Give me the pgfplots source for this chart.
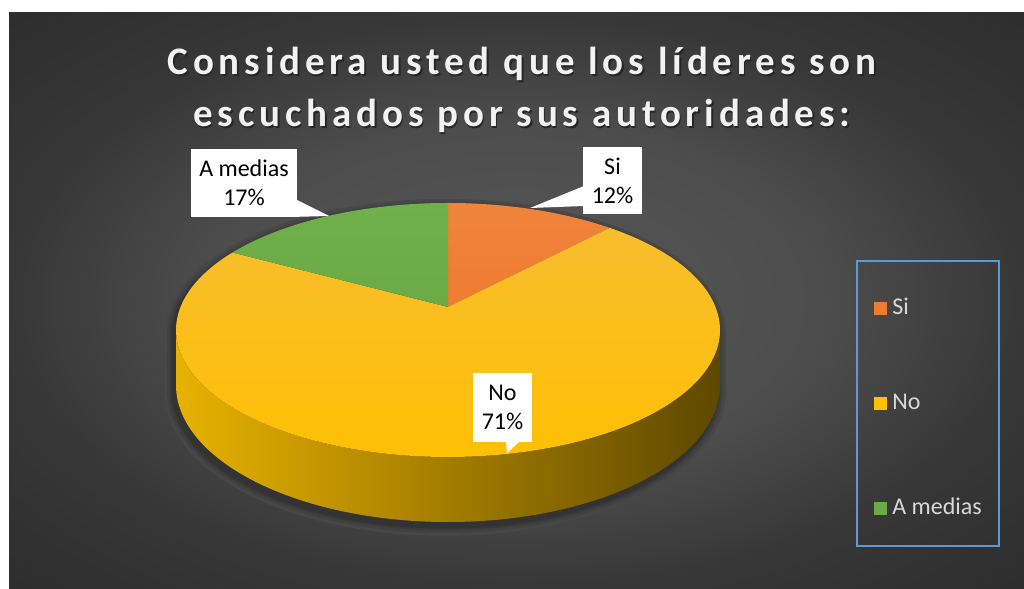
\documentclass[border=0pt]{standalone}
\usepackage{fontspec}
\setmainfont{Carlito}
\newfontfamily\titlefont[LetterSpace=12.5]{Carlito}
\usepackage{pgfplots}
\pgfplotsset{compat=1.18}
\usepackage{pgfplotstable}

\definecolor{cSi}{HTML}{EE7B30}
\definecolor{cSiT}{HTML}{F0843C}
\definecolor{cNo}{HTML}{FFC000}
\definecolor{cNoT}{HTML}{F8BD2E}
\definecolor{cAm}{HTML}{6BAA45}
\definecolor{cAmT}{HTML}{70B04C}
\definecolor{legblue}{HTML}{5B9BD5}
\definecolor{legtext}{HTML}{D9D9D9}
\definecolor{bgA}{HTML}{575757}
\definecolor{bgB}{HTML}{4D4D4D}
\definecolor{bgC}{HTML}{373737}
\definecolor{bgD}{HTML}{2D2D2D}
\definecolor{sdL}{HTML}{E8B200}
\definecolor{sdM}{HTML}{8C6C00}
\definecolor{sdR}{HTML}{5E4800}
\definecolor{sh1}{HTML}{474747}
\definecolor{sh2}{HTML}{414141}
\definecolor{sh3}{HTML}{3A3A3A}
\definecolor{sh4}{HTML}{333333}
\definecolor{tshadow}{HTML}{262626}

\pgfdeclareradialshading{bgshade}{\pgfpoint{0bp}{0bp}}{color(0bp)=(bgA); color(15bp)=(bgB); color(25bp)=(bgC); color(36bp)=(bgD); color(50bp)=(bgD)}

% data (percentages)
\pgfplotstableread{
label value
Si 12
No 71
Amedias 17
}\piedata
\pgfplotstablegetelem{0}{value}\of\piedata\edef\vA{\pgfplotsretval}
\pgfplotstablegetelem{1}{value}\of\piedata\edef\vB{\pgfplotsretval}
\pgfplotstablegetelem{2}{value}\of\piedata\edef\vC{\pgfplotsretval}

% perspective projection of a pie angle (clockwise from 12 o'clock) onto the ellipse parameter
\newcommand\projT[2]{%
  \pgfmathsetmacro\myux{sin(#1)}%
  \pgfmathsetmacro\myu{cos(#1)}%
  \pgfmathsetmacro\myw{1+0.181*\myu}%
  \pgfmathsetmacro\myX{267.4*\myux/\myw/272}%
  \pgfmathsetmacro\myY{(282+122.8*\myu/\myw-259)/127}%
  \pgfmathsetmacro#2{atan2(\myY,\myX)}%
}
\pgfmathsetmacro\myThA{0}
\pgfmathsetmacro\myThB{3.6*\vA}
\pgfmathsetmacro\myThC{3.6*(\vA+\vB)}
\pgfmathsetmacro\myThD{3.6*(\vA+\vB+\vC)}
\projT{\myThA}{\myTa}
\projT{\myThB}{\myTb}
\projT{\myThC}{\myTc}
\projT{\myThD}{\myTd}
% slice start / end parameters (clockwise)
\pgfmathsetmacro\sOneS{\myTa}
\pgfmathsetmacro\sOneE{(\myTb>\myTa)?(\myTb-360):\myTb}
\pgfmathsetmacro\sTwoS{\myTb}
\pgfmathsetmacro\sTwoE{(\myTc>\myTb)?(\myTc-360):\myTc}
\pgfmathsetmacro\sThrS{\myTc}
\pgfmathsetmacro\sThrE{(\myTd>\myTc)?(\myTd-360):\myTd}
\pgfmathsetmacro\pOneX{448+272*cos(\sOneS)}\pgfmathsetmacro\pOneY{259+127*sin(\sOneS)}
\pgfmathsetmacro\pTwoX{448+272*cos(\sTwoS)}\pgfmathsetmacro\pTwoY{259+127*sin(\sTwoS)}
\pgfmathsetmacro\pThrX{448+272*cos(\sThrS)}\pgfmathsetmacro\pThrY{259+127*sin(\sThrS)}

\newcommand\pieoutline{(axis cs:720,259) arc[start angle=0,end angle=180,x radius=136pt,y radius=63.5pt] -- (axis cs:176,204) arc[start angle=180,end angle=360,x radius=136pt,y radius=68.5pt] -- cycle}

\begin{document}
\begin{tikzpicture}
% background in canvas coordinates (1 px = 0.5pt), drawn generously past the edges
\fill[white] (-10pt,-10pt) rectangle (530pt,310pt);
\fill[bgD] (4.5pt,-20pt) rectangle (540pt,288pt);
\shade[shading=bgshade] (4.5pt,0pt) rectangle (512pt,288pt);
\begin{axis}[hide axis, scale only axis, width=512pt, height=294.5pt,
  xmin=0, xmax=1024, ymin=0, ymax=589, clip=false, at={(0pt,0pt)}, anchor=south west]
% soft shadow (solid layers)
\begin{scope}[xshift=-1.5pt, yshift=-2.5pt]
\filldraw[sh1, line width=9pt, line join=round] \pieoutline;
\filldraw[sh2, line width=6pt, line join=round] \pieoutline;
\filldraw[sh3, line width=3.5pt, line join=round] \pieoutline;
\filldraw[sh4, line width=1.5pt, line join=round] \pieoutline;
\end{scope}
% side (front) of the pie
\shade[left color=sdL, middle color=sdM, right color=sdR] (axis cs:176,259) arc[start angle=180,end angle=360,x radius=136pt,y radius=63.5pt] -- (axis cs:720,204) arc[start angle=360,end angle=180,x radius=136pt,y radius=68.5pt] -- cycle;
% top face slices
\shade[top color=cSiT, bottom color=cSi] (axis cs:448,282) -- (axis cs:\pOneX,\pOneY) arc[start angle=\sOneS, end angle=\sOneE, x radius=136pt, y radius=63.5pt] -- cycle;
\shade[top color=cNoT, bottom color=cNo] (axis cs:448,282) -- (axis cs:\pTwoX,\pTwoY) arc[start angle=\sTwoS, end angle=\sTwoE, x radius=136pt, y radius=63.5pt] -- cycle;
\shade[top color=cAmT, bottom color=cAm] (axis cs:448,282) -- (axis cs:\pThrX,\pThrY) arc[start angle=\sThrS, end angle=\sThrE, x radius=136pt, y radius=63.5pt] -- cycle;
% title
\node[anchor=base, text=tshadow, font=\titlefont\bfseries\fontsize{19.5}{23}\selectfont] at (axis cs:523.5,512) {Considera usted que los líderes son};
\node[anchor=base, text=tshadow, font=\titlefont\bfseries\fontsize{19.5}{23}\selectfont] at (axis cs:523.5,460) {escuchados por sus autoridades:};
\node[anchor=base, text=white!95!black, font=\titlefont\bfseries\fontsize{19.5}{23}\selectfont] at (axis cs:522,514) {Considera usted que los líderes son};
\node[anchor=base, text=white!95!black, font=\titlefont\bfseries\fontsize{19.5}{23}\selectfont] at (axis cs:522,462) {escuchados por sus autoridades:};
% data labels (callouts)
\fill[white] (axis cs:297,389) -- (axis cs:290,372) -- (axis cs:329,373) -- cycle;
\node[fill=white, inner sep=0pt, minimum width=53pt, minimum height=34pt, align=center, font=\fontsize{12}{14.5}\selectfont] at (axis cs:244,406) {A medias\\17\%};
\fill[white] (axis cs:584,403) -- (axis cs:584,383) -- (axis cs:530,381) -- cycle;
\node[fill=white, inner sep=0pt, minimum width=29.5pt, minimum height=33.5pt, align=center, font=\fontsize{12}{14.5}\selectfont] at (axis cs:612.5,408.5) {Si\\12\%};
\fill[white] (axis cs:506,148) -- (axis cs:520,148) -- (axis cs:507,136) -- cycle;
\node[fill=white, inner sep=0pt, minimum width=29.5pt, minimum height=34.5pt, align=center, font=\fontsize{12}{14.5}\selectfont] at (axis cs:502.5,181.5) {No\\71\%};
% legend
\draw[legblue, line width=1pt] (axis cs:857,43) rectangle (axis cs:999,328);
\fill[cSi] (axis cs:874,274) rectangle (axis cs:887,286.5);
\fill[cNo] (axis cs:874,179) rectangle (axis cs:887,191.5);
\fill[cAm] (axis cs:874,74) rectangle (axis cs:887,86.5);
\node[anchor=base west, inner sep=0pt, text=legtext, font=\fontsize{12}{14}\selectfont] at (axis cs:892,274) {Si};
\node[anchor=base west, inner sep=0pt, text=legtext, font=\fontsize{12}{14}\selectfont] at (axis cs:892,179) {No};
\node[anchor=base west, inner sep=0pt, text=legtext, font=\fontsize{12}{14}\selectfont] at (axis cs:892,74) {A medias};
\end{axis}
\pgfresetboundingbox
\useasboundingbox (0pt,0pt) rectangle (512pt,294.5pt);
\end{tikzpicture}
\end{document}
